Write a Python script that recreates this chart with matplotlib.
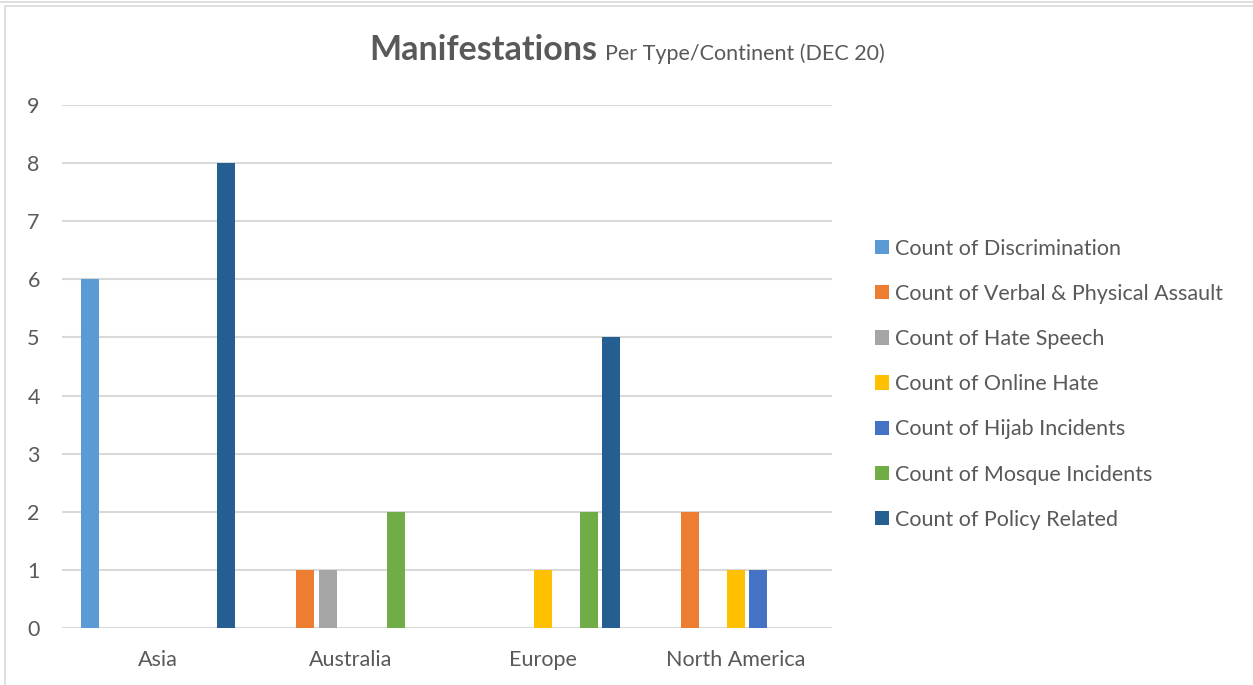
import numpy as np
from matplotlib import pyplot as plt
from matplotlib.patches import Rectangle
from matplotlib.lines import Line2D

plt.rcParams['font.family'] = ['Lato', 'DejaVu Sans']

continents = ['Asia', 'Australia', 'Europe', 'North America']
series = ['Count of Discrimination', 'Count of Verbal & Physical Assault',
          'Count of Hate Speech', 'Count of Online Hate',
          'Count of Hijab Incidents', 'Count of Mosque Incidents',
          'Count of Policy Related']
discrimination = [6, 0, 0, 0]
verbal_physical = [0, 1, 0, 2]
hate_speech = [0, 1, 0, 0]
online_hate = [0, 0, 1, 1]
hijab = [0, 0, 0, 1]
mosque = [0, 2, 2, 0]
policy = [8, 0, 5, 0]
colors = ['#5B9BD5', '#ED7D31', '#A5A5A5', '#FFC000', '#4472C4', '#70AD47', '#255E91']

values = [discrimination, verbal_physical, hate_speech, online_hate, hijab, mosque, policy]
text_c = '#595959'
grid_c = '#d9d9d9'

W, H = 1253, 685
fig = plt.figure(figsize=(W / 100, H / 100), dpi=100)

# chart frame
fig.add_artist(Line2D([0, 1], [1 - 2 / H, 1 - 2 / H], color=grid_c, lw=1.2))
fig.add_artist(Rectangle((5 / W, -0.01), 1.1, 1 - 6 / H + 0.01, fill=False,
                         edgecolor=grid_c, lw=1.2))

ax = fig.add_axes([62 / W, 1 - 628 / H, 770 / W, 523 / H])
x = np.arange(len(continents))
step = 0.1178
width = 0.0935
for j, (name, vals) in enumerate(zip(series, values)):
    ax.bar(x + (j - 3) * step, vals, width, color=colors[j], label=name, zorder=3)

ax.set_xlim(-0.5, len(continents) - 0.5)
ax.set_ylim(0, 9)
ax.set_yticks(range(10))
ax.set_xticks(x)
ax.set_xticklabels(continents)
ax.yaxis.grid(True, color=grid_c, lw=1.5, zorder=0)
ax.set_axisbelow(True)
for s in ax.spines.values():
    s.set_visible(False)
ax.tick_params(axis='both', length=0, labelsize=15.5, labelcolor=text_c)
ax.tick_params(axis='x', pad=16)
ax.tick_params(axis='y', pad=16)

fig.text(597 / W, 1 - 60 / H, 'Manifestations', ha='right', va='baseline',
         fontsize=24.5, fontweight='bold', color=text_c)
fig.text(605 / W, 1 - 60 / H, 'Per Type/Continent (DEC 20)', ha='left', va='baseline',
         fontsize=15.5, color=text_c)

leg = fig.legend(loc='upper left', bbox_to_anchor=(866 / W, 1 - 230 / H),
                 frameon=False, fontsize=15.5, labelcolor=text_c,
                 handlelength=0.65, handleheight=0.65, handletextpad=0.3,
                 labelspacing=1.17, borderaxespad=0)

fig.savefig('out.png', dpi=100)
